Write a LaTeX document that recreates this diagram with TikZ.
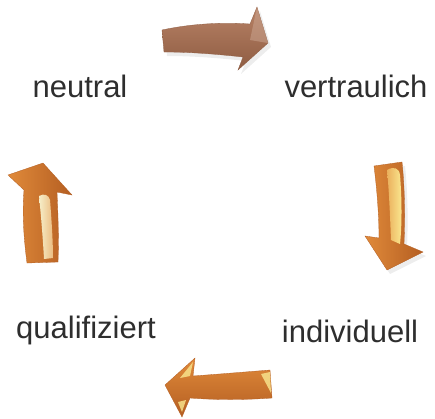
\documentclass[tikz,border=0pt]{standalone}
\usepackage{fontspec}
\setmainfont{Liberation Sans}
\usetikzlibrary{shadings}
\definecolor{txt}{HTML}{2E2E2E}
\definecolor{brownA}{HTML}{B88266}
\definecolor{brownB}{HTML}{8E5C42}
\definecolor{orA}{HTML}{E08A3A}
\definecolor{orB}{HTML}{B45E22}
\definecolor{hiY}{HTML}{FAE890}
\definecolor{hiC}{HTML}{F6EEC8}
\tikzset{
  lbl/.style={anchor=base,inner sep=0pt,text=txt,font=\fontsize{31}{31}\selectfont},
  brownarrow/.style={top color=brownA,bottom color=brownB,draw=brownB,line width=0.3pt},
  orarrowh/.style={left color=orA,right color=orB,draw=orB,line width=0.3pt},
  orarrowv/.style={top color=orA,bottom color=orB,draw=orB,line width=0.3pt},
  hiliteR/.style={left color=orA!60!hiY,right color=hiY,draw=none},
  hiliteL/.style={left color=hiC,right color=orA!50!hiC,draw=none},
  shadow/.style={fill=black,opacity=0.07,draw=none}
}
\begin{document}
\begin{tikzpicture}[x=1pt,y=-1pt]
\useasboundingbox[fill=white] (0,0) rectangle (435,418);
% labels
\node[lbl] (neutral) at (80,97) {neutral};
\node[lbl] (vertr) at (356,97) {vertraulich};
\node[lbl] (quali) at (86,338) {qualifiziert};
\node[lbl] (indiv) at (350,342) {individuell};
% shadows
\fill[shadow] (165,34) .. controls (193,28) and (223,26) .. (253,28) -- (260,11) -- (271,47) -- (241,74) -- (246,61) .. controls (218,58) and (193,56) .. (167,56) -- cycle;
\fill[shadow] (377,170) -- (405,166) .. controls (408,194) and (408,224) .. (407,248) -- (426,256) -- (390,274) -- (368,240) -- (382,242) .. controls (382,219) and (380,194) .. (377,170) -- cycle;
% top arrow (brown)
\path[brownarrow] (162,30) .. controls (190,24) and (220,22) .. (250,24) -- (257,7) -- (268,43) -- (238,70) -- (243,57) .. controls (215,54) and (190,52) .. (164,52) -- cycle;
\fill[brownA!70!white,opacity=0.5] (257,7) -- (268,43) -- (250,40) -- cycle;
% right arrow (orange, down)
\path[orarrowh] (374,166) -- (402,162) .. controls (405,190) and (405,220) .. (404,244) -- (423,252) -- (387,270) -- (365,236) -- (379,238) .. controls (379,215) and (377,190) .. (374,166) -- cycle;
\path[hiliteR] (387,170) .. controls (394,166) and (399,168) .. (400,175) .. controls (402,200) and (402,225) .. (400,244) -- (391,240) .. controls (390,215) and (389,190) .. (387,170) -- cycle;
% bottom arrow (orange, left)
\path[orarrowv] (270,370) -- (272,398) .. controls (245,400) and (215,400) .. (190,398) -- (182,417) -- (165,385) -- (195,358) -- (193,376) .. controls (220,374) and (245,372) .. (270,370) -- cycle;
\path[fill=hiY,opacity=0.8] (261,374) -- (270,372) -- (271,393) -- cycle;
\path[fill=hiY,opacity=0.8] (193,362) -- (180,378) -- (190,376) -- cycle;
\path[fill=hiY,opacity=0.8] (186,400) -- (182,412) -- (178,402) -- cycle;
% left arrow (orange, up)
\path[orarrowh] (24,190) -- (8,175) -- (43,163) -- (72,195) -- (57,192) .. controls (58,215) and (59,240) .. (58,262) -- (27,263) .. controls (24,240) and (22,215) .. (24,190) -- cycle;
\path[hiliteL] (39,196) .. controls (44,193) and (49,195) .. (50,200) .. controls (52,225) and (53,245) .. (53,258) -- (44,259) .. controls (43,240) and (41,215) .. (39,196) -- cycle;
\end{tikzpicture}
\end{document}
